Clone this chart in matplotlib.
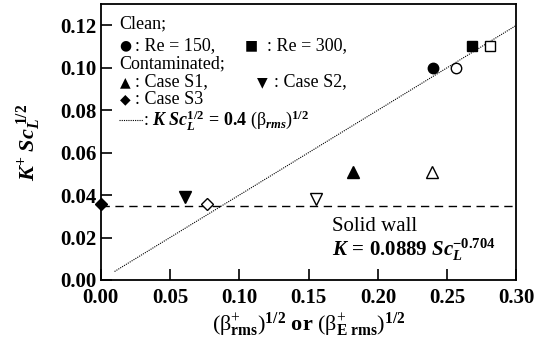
import numpy as np
import matplotlib.pyplot as plt

plt.rcParams['font.family'] = ['Liberation Serif', 'DejaVu Sans']
plt.rcParams['mathtext.fontset'] = 'custom'
plt.rcParams['mathtext.rm'] = 'Liberation Serif'
plt.rcParams['mathtext.it'] = 'Liberation Serif:italic'
plt.rcParams['mathtext.bf'] = 'Liberation Serif:bold'
plt.rcParams['mathtext.bfit'] = 'Liberation Serif:italic:bold'

# data: filled = (beta+_rms)^1/2, open = (beta+_E rms)^1/2
cases = ['Re = 150', 'Re = 300', 'Case S1', 'Case S2', 'Case S3']
markers = ['o', 's', '^', 'v', 'D']
msizes = [7.5, 7.5, 8.5, 8.5, 6]
beta_rms = [0.240, 0.268, 0.182, 0.061, 0.000]
beta_e_rms = [0.256, 0.281, 0.239, 0.155, 0.077]
k_sc = [0.100, 0.110, 0.051, 0.039, 0.036]
k_sc_e = [0.100, 0.110, 0.051, 0.038, 0.036]

# correlation K Sc^1/2 = 0.4 beta^1/2
line_x = np.array([0.01, 0.30])
line_coef = 0.4
solid_wall = 0.035

fig = plt.figure(figsize=(5.37, 3.46), dpi=100)
ax = fig.add_axes([0.1875, 0.1908, 0.7743, 0.7976])

ax.plot(line_x, line_coef * line_x, color='black', lw=0.8, ls=(0, (1, 1)))
ax.axhline(solid_wall, color='black', lw=1.0, ls=(0, (6, 4)))

for i in range(len(cases)):
    ax.plot(beta_rms[i], k_sc[i], marker=markers[i], ms=msizes[i], color='black',
            ls='none', clip_on=False, zorder=5)
    ax.plot(beta_e_rms[i], k_sc_e[i], marker=markers[i], ms=msizes[i],
            mfc='white', mec='black', mew=1.0, ls='none', clip_on=False, zorder=5)

ax.set_xlim(0, 0.30)
ax.set_ylim(0, 0.13)
ax.set_xticks(np.arange(0, 0.31, 0.05))
ax.set_yticks(np.arange(0, 0.121, 0.02))
ax.set_xticklabels(['%.2f' % v for v in np.arange(0, 0.31, 0.05)])
ax.set_yticklabels(['%.2f' % v for v in np.arange(0, 0.121, 0.02)])
ax.tick_params(direction='in', length=8, width=1.2, labelsize=15)
ax.tick_params(axis='x', pad=6)
ax.tick_params(axis='y', pad=3)
for lab in ax.get_xticklabels() + ax.get_yticklabels():
    lab.set_fontweight('bold')
for s in ax.spines.values():
    s.set_linewidth(1.3)

ax.set_xlabel(r'$(\mathrm{\beta}^{+}_{\mathbf{rms}})^{\mathbf{1/2}}$ or '
              r'$(\mathrm{\beta}^{+}_{\mathbf{E\ rms}})^{\mathbf{1/2}}$',
              fontsize=16, fontweight='bold', labelpad=2)
ax.set_ylabel(r'$\mathbfit{K}^{\mathbf{+}}\ \mathbfit{Sc}_{\mathbfit{L}}^{\ \mathbf{1/2}}$',
              fontsize=16, labelpad=12)

# legend written by hand
fs = 13
sym = dict(fontsize=10, va='center', ha='center', family='DejaVu Sans')
ax.text(0.0134, 0.1205, 'Clean;', fontsize=fs, va='center')
ax.text(0.0176, 0.1106, '\u25cf', **sym)
ax.text(0.0250, 0.1106, ': ' + cases[0] + ',', fontsize=fs, va='center')
ax.text(0.1090, 0.1106, '\u25a0', **sym)
ax.text(0.1200, 0.1106, ': ' + cases[1] + ',', fontsize=fs, va='center')
ax.text(0.0134, 0.1020, 'Contaminated;', fontsize=fs, va='center')
ax.text(0.0176, 0.0933, '\u25b2', **sym)
ax.text(0.0250, 0.0933, ': ' + cases[2] + ',', fontsize=fs, va='center')
ax.text(0.1165, 0.0933, '\u25bc', **sym)
ax.text(0.1250, 0.0933, ': ' + cases[3] + ',', fontsize=fs, va='center')
ax.text(0.0176, 0.0850, '\u25c6', **sym)
ax.text(0.0250, 0.0850, ': ' + cases[4], fontsize=fs, va='center')
ax.plot([0.0134, 0.0303], [0.0752, 0.0752], color='black', lw=0.8, ls=(0, (1, 1)))
ax.text(0.0303, 0.0752, r': $\mathbfit{K\ Sc}_{\mathbfit{L}}^{\mathbf{1/2}}\mathbf{\,=\,0.4\ }'
        r'(\mathrm{\beta}_{\mathbfit{rms}})^{\mathbf{1/2}}$', fontsize=fs, va='center')

ax.text(0.167, 0.0252, 'Solid wall', fontsize=15, va='center')
ax.text(0.167, 0.0142, r'$\mathbfit{K}\mathbf{\,=\,0.0889\ }\mathbfit{Sc}_{\mathbfit{L}}^{\mathbf{-0.704}}$',
        fontsize=15, va='center')

fig.savefig('out.png', dpi=100)
